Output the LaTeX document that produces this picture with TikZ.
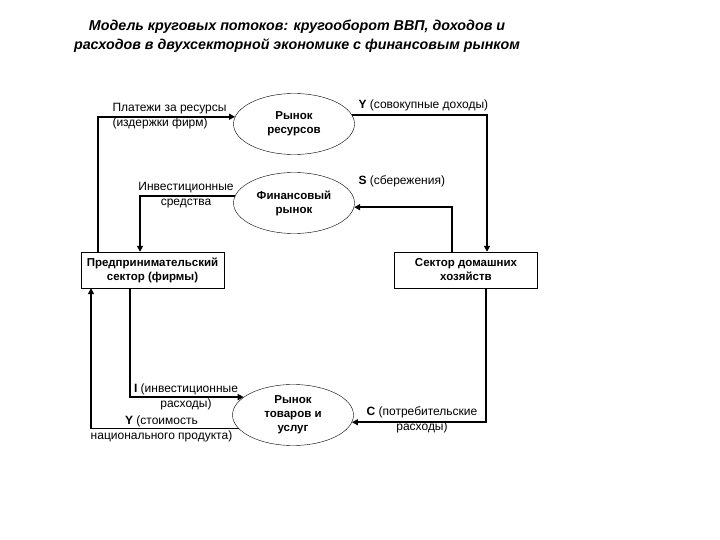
\documentclass[tikz,border=0pt]{standalone}
\usepackage{fontspec}
\setmainfont{Liberation Sans}
\usetikzlibrary{arrows.meta,shapes.geometric}

\begin{document}
\begin{tikzpicture}[x=1pt, y=-1pt,
    every node/.style={font=\fontsize{12}{15}\selectfont},
    market/.style={draw, ellipse, thin, inner sep=0pt, minimum width=121pt, minimum height=61pt, align=center, font=\fontsize{11.5}{14}\selectfont\bfseries},
    sector/.style={draw, thin, minimum width=143pt, minimum height=36pt, align=center, font=\fontsize{11.5}{14}\selectfont\bfseries},
    flow/.style={line width=1.6pt, -{Triangle[length=6pt, width=6pt]}}]
    \useasboundingbox (0,0) rectangle (720,540);
    % title
    \node[font=\fontsize{14.3}{19}\selectfont\bfseries\itshape, align=center] (title) at (297,36) {Модель круговых потоков: кругооборот ВВП, доходов и\\расходов в двухсекторной экономике с финансовым рынком};
    % markets and sectors
    \node[market] (resmkt) at (294,124) {Рынок\\ресурсов};
    \node[market] (finmkt) at (294,203) {Финансовый\\рынок};
    \node[market] (goodsmkt) at (293,415) {Рынок\\товаров и\\услуг};
    \node[sector] (firms) at (152.5,270) {Предпринимательский\\сектор (фирмы)};
    \node[sector] (house) at (466,270) {Сектор домашних\\хозяйств};
    % flows
    \draw[flow] ([xshift=17pt]firms.north west) |- (resmkt.173);
    \draw[flow] (resmkt.9) -| ([xshift=21pt]house.north);
    \draw[flow] ([xshift=-14pt]house.north) |- (finmkt.356);
    \draw[flow] (finmkt.173) -| ([xshift=-12.5pt]firms.north);
    \draw[flow] ([xshift=-22.5pt]firms.south) |- (goodsmkt.160);
    \draw[flow] (goodsmkt.194) -| ([xshift=-61.5pt]firms.south);
    \draw[flow] ([xshift=20pt]house.south) |- (goodsmkt.353);
    % flow labels
    \node[anchor=west, align=left] (paylbl) at (109,116) {Платежи за ресурсы\\(издержки фирм)};
    \node[align=center] (invlbl) at (186,195) {Инвестиционные\\средства};
    \node[anchor=west] (ylbl) at (355,105) {\textbf{Y} (совокупные доходы)};
    \node[anchor=west] (slbl) at (355,181) {\textbf{S} (сбережения)};
    \node[align=center] (ilbl) at (186,397) {\textbf{I} (инвестиционные\\расходы)};
    \node[align=center] (gdplbl) at (161.5,429) {\textbf{Y} (стоимость\\национального продукта)};
    \node[align=center] (clbl) at (422,420) {\textbf{C} (потребительские\\расходы)};
\end{tikzpicture}
\end{document}
